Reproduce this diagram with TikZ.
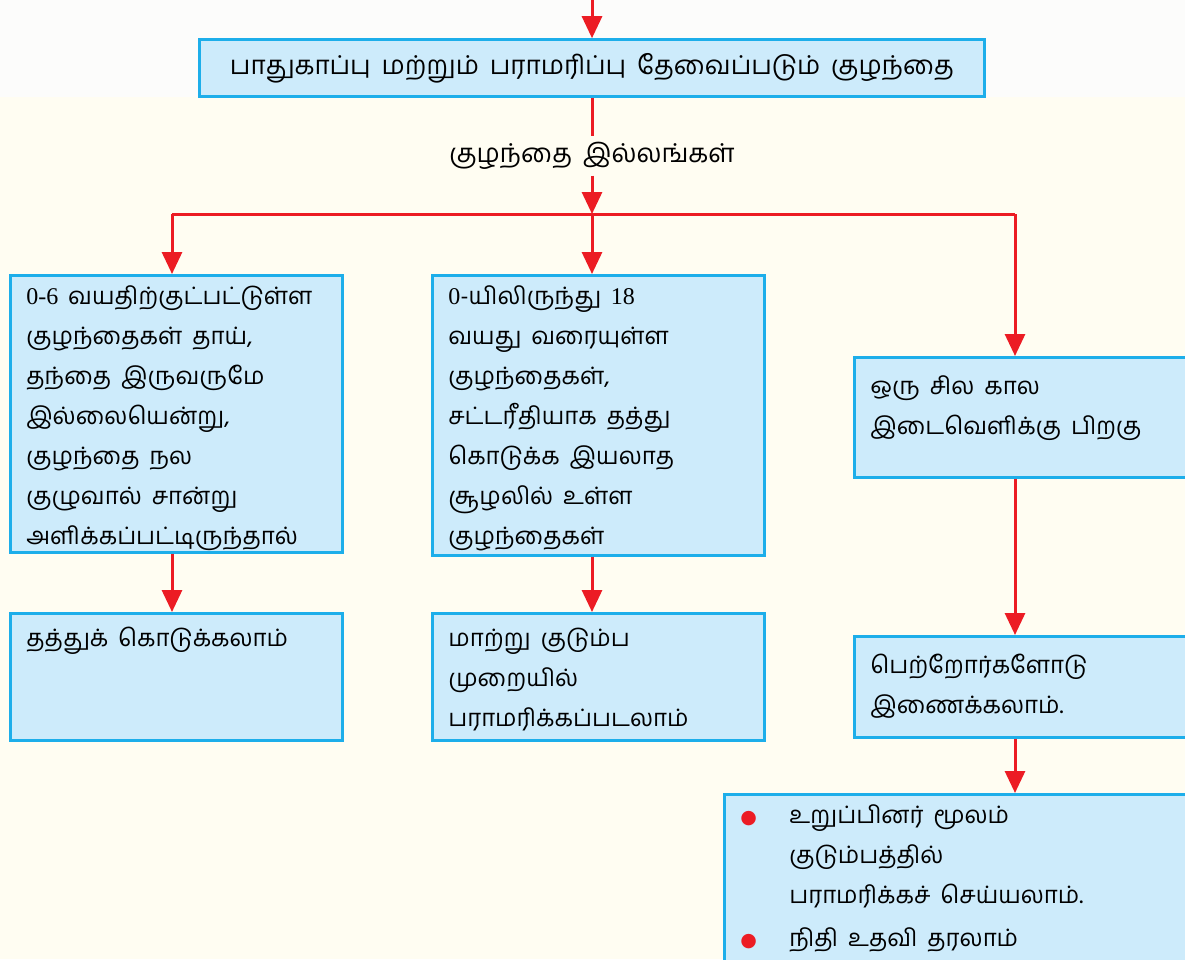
\documentclass[tikz,border=0pt]{standalone}
\usepackage{fontspec}
\newfontfamily\tamil[Script=Tamil,WordSpace=1.7]{Hind Madurai}
\newfontfamily\latinnum{Liberation Serif}
\newfontfamily\dotfont{DejaVu Sans}
\usetikzlibrary{arrows.meta}

\definecolor{boxfill}{HTML}{CDEBFB}
\definecolor{boxline}{HTML}{1DAEEA}
\definecolor{arrowred}{HTML}{EC1C24}
\definecolor{paper}{HTML}{FFFDF2}
\definecolor{papertop}{HTML}{FCFCFB}

\tikzset{
  box/.style={draw=boxline, fill=boxfill, line width=2.6pt, anchor=north west,
    inner xsep=16pt, inner ysep=10pt, font=\tamil\fontsize{24}{40}\selectfont},
  link/.style={draw=arrowred, line width=3pt},
  flow/.style={link, -{Triangle[width=20pt,length=22pt]}},
}

\begin{document}
\begin{tikzpicture}[x=1pt, y=-1pt]
    \useasboundingbox (0,0) rectangle (1185,959);
    \clip (0,0) rectangle (1185,959);
    \fill[paper] (0,97) rectangle (1185,959);
    \fill[papertop] (0,0) rectangle (1185,97);

    % top of the chart
    \coordinate (in) at (592,0);
    \node[box, anchor=center, minimum width=785pt, minimum height=57pt,
      font=\tamil\fontsize{26}{30}\selectfont] (need) at (592,68)
      {பாதுகாப்பு மற்றும் பராமரிப்பு தேவைப்படும் குழந்தை};
    \node[font=\tamil\fontsize{26}{30}\selectfont, minimum height=39pt, inner sep=0pt]
      (homes) at (592,156) {குழந்தை இல்லங்கள்};
    \coordinate (split) at (592,214);
    \coordinate (barl) at (172,214);
    \coordinate (barr) at (1015,214);

    % first row
    \node[box] (orphan) at (9,274) {\parbox[t][257pt][t]{300pt}{%
      {\latinnum 0-6} வயதிற்குட்பட்டுள்ள\\
      குழந்தைகள் தாய்,\\
      தந்தை இருவருமே\\
      இல்லையென்று,\\
      குழந்தை நல\\
      குழுவால் சான்று\\
      அளிக்கப்பட்டிருந்தால்}};
    \node[box] (legal) at (431,274) {\parbox[t][260pt][t]{300pt}{%
      {\latinnum 0}-யிலிருந்து {\latinnum 18}\\
      வயது வரையுள்ள\\
      குழந்தைகள்,\\
      சட்டரீதியாக தத்து\\
      கொடுக்க இயலாத\\
      சூழலில் உள்ள\\
      குழந்தைகள்}};
    \node[box] (later) at (853,356) {\parbox[t][100pt][t]{330pt}{%
      \rule{0pt}{27pt}ஒரு சில கால\\
      இடைவெளிக்கு பிறகு}};

    % second row
    \node[box] (adopt) at (9,612) {\parbox[t][107pt][t]{300pt}{%
      \rule{0pt}{23pt}தத்துக் கொடுக்கலாம்}};
    \node[box] (foster) at (431,612) {\parbox[t][107pt][t]{300pt}{%
      \rule{0pt}{23pt}மாற்று குடும்ப\\
      முறையில்\\
      பராமரிக்கப்படலாம்}};
    \node[box] (reunite) at (853,635) {\parbox[t][81pt][t]{330pt}{%
      \rule{0pt}{27pt}பெற்றோர்களோடு\\
      இணைக்கலாம்.}};
    \node[box] (support) at (723,793) {\parbox[t][190pt][t]{440pt}{%
      \makebox[49pt][l]{\textcolor{arrowred}{\dotfont\fontsize{19}{19}\selectfont ●}}உறுப்பினர் மூலம்\\
      \hspace*{49pt}குடும்பத்தில்\\
      \hspace*{49pt}பராமரிக்கச் செய்யலாம்.\\[3pt]
      \makebox[49pt][l]{\textcolor{arrowred}{\dotfont\fontsize{19}{19}\selectfont ●}}நிதி உதவி தரலாம்}};

    % connectors
    \draw[flow] (in) -- (need);
    \draw[link] (need) -- (homes);
    \draw[flow] (homes) -- (split);
    \draw[link] (barl) -- (barr);
    \draw[flow] (barl) -- (barl |- orphan.north);
    \draw[flow] (split) -- (split |- legal.north);
    \draw[flow] (barr) -- (barr |- later.north);
    \draw[flow] (barl |- orphan.south) -- (barl |- adopt.north);
    \draw[flow] (split |- legal.south) -- (split |- foster.north);
    \draw[flow] (barr |- later.south) -- (barr |- reunite.north);
    \draw[flow] (barr |- reunite.south) -- (barr |- support.north);
\end{tikzpicture}
\end{document}
